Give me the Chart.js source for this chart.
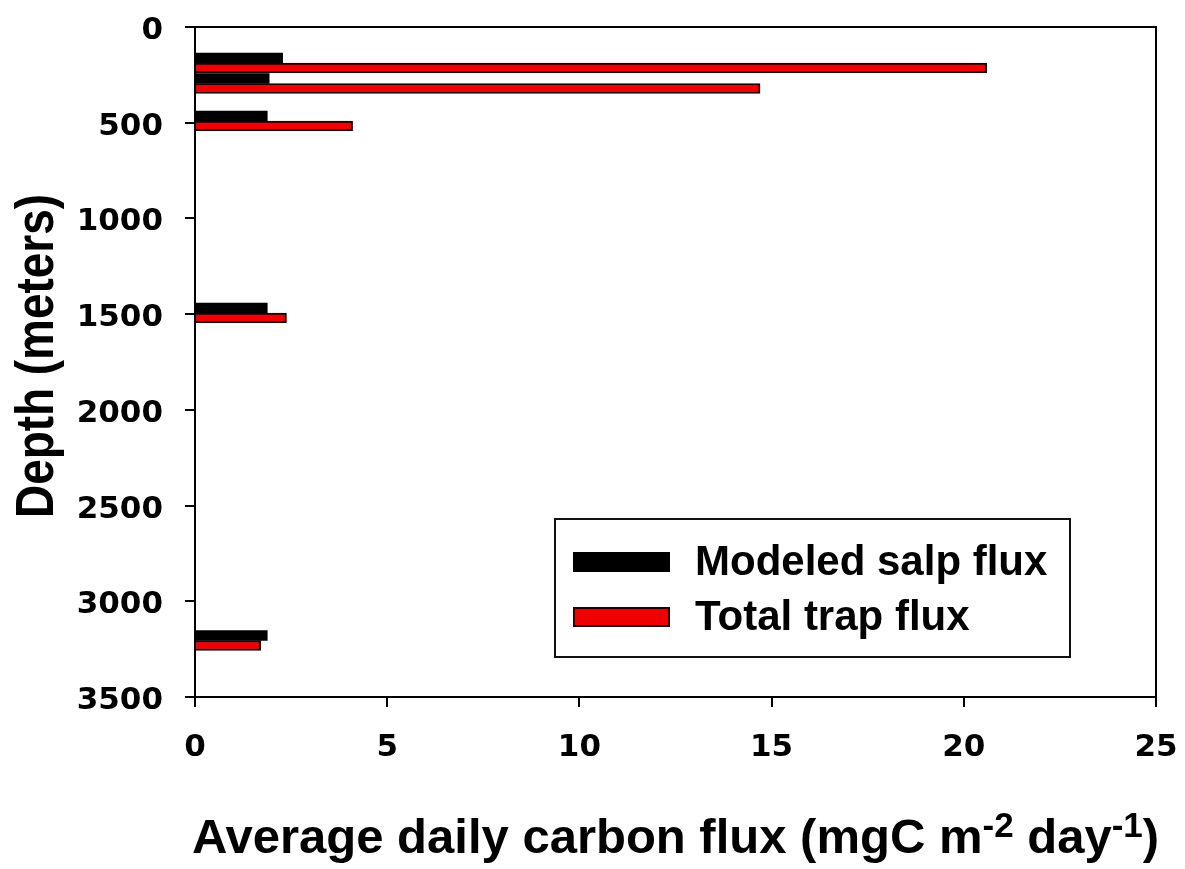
<!DOCTYPE html>
<html><head><meta charset="utf-8">
<script src="https://cdn.jsdelivr.net/npm/chart.js@4.4.1/dist/chart.umd.min.js"></script>
<style>html,body{margin:0;padding:0;background:#fff}canvas{display:block}</style>
</head><body>
<canvas id="c" width="1185" height="869"></canvas>
<script>
// ---- data ----
const depths = [188, 295, 491, 1494, 3205];
const salpFlux = [2.28, 1.93, 1.88, 1.88, 1.88];
const trapFlux = [20.6, 14.7, 4.1, 2.38, 1.71];
const seriesNames = ['Modeled salp flux', 'Total trap flux'];
const depthTicks = [0, 500, 1000, 1500, 2000, 2500, 3000, 3500];
const fluxTicks = [0, 5, 10, 15, 20, 25];
const yTitle = 'Depth (meters)';
const xTitleParts = [
  ['Average daily carbon flux (mgC m', false],
  ['-2', true],
  [' day', false],
  ['-1', true],
  [')', false]
];

const TICK_FONT = {family: "'DejaVu Sans', sans-serif", size: 31, weight: 'bold'};
const TITLE_FAMILY = "'Liberation Sans', Arial, sans-serif";

const framePlugin = {
  id: 'frameAndTitles',
  afterDraw(chart) {
    const ctx = chart.ctx;
    const a = chart.chartArea;
    ctx.save();
    // frame
    ctx.strokeStyle = '#000';
    ctx.lineWidth = 2;
    ctx.strokeRect(a.left, a.top, a.right - a.left, a.bottom - a.top);

    // legend box
    const lx = 555, ly = 519, lw = 515, lh = 138;
    ctx.lineWidth = 2;
    ctx.strokeStyle = '#111';
    ctx.fillStyle = '#fff';
    ctx.fillRect(lx, ly, lw, lh);
    ctx.strokeRect(lx, ly, lw, lh);
    const rows = [562, 617];
    chart.data.datasets.forEach((ds, i) => {
      const cy = rows[i];
      ctx.fillStyle = ds.backgroundColor;
      ctx.fillRect(573, cy - 10, 97, 20);
      if (ds.borderWidth) {
        ctx.lineWidth = 2;
        ctx.strokeStyle = ds.borderColor;
        ctx.strokeRect(574, cy - 9, 95, 18);
      }
      ctx.fillStyle = '#000';
      ctx.font = 'bold 42px ' + TITLE_FAMILY;
      ctx.textBaseline = 'middle';
      ctx.textAlign = 'left';
      ctx.fillText(ds.label, 695, cy + 1);
    });

    // x title with superscripts
    const mainFont = 'bold 49px ' + TITLE_FAMILY;
    const supFont = 'bold 35px ' + TITLE_FAMILY;
    let total = 0;
    const widths = xTitleParts.map(([t, sup]) => {
      ctx.font = sup ? supFont : mainFont;
      const w = ctx.measureText(t).width;
      total += w;
      return w;
    });
    let x = (a.left + a.right) / 2 - total / 2;
    const base = 853;
    ctx.textAlign = 'left';
    ctx.textBaseline = 'alphabetic';
    ctx.fillStyle = '#000';
    xTitleParts.forEach(([t, sup], i) => {
      ctx.font = sup ? supFont : mainFont;
      ctx.fillText(t, x, sup ? base - 16 : base);
      x += widths[i];
    });

    // y title (rotated, slightly condensed)
    ctx.save();
    ctx.translate(53, 356);
    ctx.rotate(-Math.PI / 2);
    ctx.scale(0.85, 1);
    ctx.font = 'bold 54px ' + TITLE_FAMILY;
    ctx.textAlign = 'center';
    ctx.textBaseline = 'alphabetic';
    ctx.fillText(yTitle, 0, 0);
    ctx.restore();

    ctx.restore();
  }
};

function noPad(s) {
  s.paddingTop = 0; s.paddingBottom = 0; s.paddingLeft = 0; s.paddingRight = 0;
}

new Chart(document.getElementById('c'), {
  type: 'bar',
  data: {
    datasets: [
      {
        label: seriesNames[0],
        data: depths.map((d, i) => ({x: salpFlux[i], y: d})),
        backgroundColor: '#000000',
        borderWidth: 0
      },
      {
        label: seriesNames[1],
        data: depths.map((d, i) => ({x: trapFlux[i], y: d})),
        backgroundColor: '#f00000',
        borderColor: '#200000',
        borderWidth: 2,
        borderSkipped: 'start'
      }
    ]
  },
  options: {
    responsive: false,
    animation: false,
    devicePixelRatio: 1,
    indexAxis: 'y',
    barThickness: 10,
    layout: {padding: {top: 27, right: 29, left: 0, bottom: 0}},
    plugins: {legend: {display: false}, tooltip: {enabled: false}, title: {display: false}},
    scales: {
      x: {
        type: 'linear', position: 'bottom', offset: false,
        min: fluxTicks[0], max: fluxTicks[fluxTicks.length - 1],
        afterBuildTicks(s) { s.ticks = fluxTicks.map(v => ({value: v})); },
        ticks: {font: TICK_FONT, color: '#000', padding: 22, maxRotation: 0, autoSkip: false,
                callback: v => String(v)},
        grid: {offset: false, drawOnChartArea: false, drawTicks: true, tickLength: 10, color: '#000', lineWidth: 2},
        border: {color: '#000', width: 2},
        title: {display: false},
        afterFit(s) { s.height = 172; noPad(s); }
      },
      y: {
        type: 'linear', position: 'left', reverse: true, offset: false,
        min: depthTicks[0], max: depthTicks[depthTicks.length - 1],
        afterBuildTicks(s) { s.ticks = depthTicks.map(v => ({value: v})); },
        ticks: {font: TICK_FONT, color: '#000', padding: 22, autoSkip: false, labelOffset: 4,
                callback: v => String(v)},
        grid: {offset: false, drawOnChartArea: false, drawTicks: true, tickLength: 10, color: '#000', lineWidth: 2},
        border: {color: '#000', width: 2},
        title: {display: false},
        afterFit(s) { s.width = 195; noPad(s); }
      }
    }
  },
  plugins: [framePlugin]
});
</script>
</body></html>
